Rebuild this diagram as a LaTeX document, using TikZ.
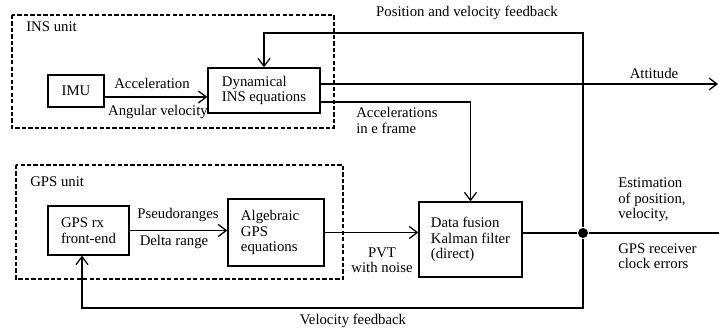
\documentclass[tikz,border=0pt]{standalone}
\usepackage{fontspec}
\setmainfont{Liberation Serif}
\usepackage{tikz}
\usetikzlibrary{arrows.meta}

\begin{document}
\begin{tikzpicture}[x=0.025cm,y=-0.025cm,line width=0.9pt,
  font=\fontsize{10.5}{11}\selectfont,
  >={Straight Barb[length=2mm,width=3mm]},
  blk/.style={draw,align=left,inner sep=0pt},
  unitbox/.style={draw,dash pattern=on 3pt off 1.6pt,line width=0.8pt}]
\useasboundingbox (0,0) rectangle (719,328);

\draw[unitbox] (12,15) rectangle (334,128);
\draw[unitbox] (16,165) rectangle (343,279);
\node[anchor=west] (ins) at (21,27) {INS unit};
\node[anchor=west] (gps) at (25,182) {GPS unit};

\node[blk,minimum width=1.4cm,minimum height=0.8cm] (imu) at (76,91) {IMU};
\node[blk,minimum width=2.8cm,minimum height=1.125cm] (dyn) at (264,90.5) {Dynamical\\INS equations};
\node[blk,minimum width=2.025cm,minimum height=1.225cm] (rx) at (88.5,230.5) {GPS rx\\front-end};
\node[blk,text width=1.75cm,inner xsep=0.325cm,minimum height=1.675cm] (alg) at (276,232.5) {Algebraic\\GPS\\equations};
\node[blk,minimum width=2.575cm,minimum height=1.875cm] (kf) at (470.5,239.5) {Data fusion\\Kalman filter\\(direct)};
\node[circle,fill,inner sep=0pt,minimum size=2.5mm] (dot) at (583,233) {};

\coordinate (att) at (718,84);
\coordinate (pvfb) at (583,33);
\coordinate (vfb) at (82,308);
\coordinate (out) at (719,233);

\draw[->] (imu.east |- 0,97) -- (dyn.west |- 0,97);
\draw[->] (dyn.east |- att) -- (att);
\draw[->] (dyn.east |- 0,102) -| (kf.north);
\draw[->] (dot) -- (pvfb) -| (dyn.north);
\draw[->] (rx.east) -- (rx.east -| alg.west);
\draw[->] (alg.east) -- (alg.east -| kf.west);
\draw (kf.east |- dot) -- (dot) -- (out);
\draw[->] (dot) |- (vfb) -- (vfb |- rx.south);

\node (lpv) at (467,13) {Position and velocity feedback};
\node (latt) at (654,73) {Attitude};
\node (lacc) at (152,83) {Acceleration};
\node (lang) at (158,112) {Angular velocity};
\node[anchor=west,align=left] (lacce) at (351,120.5) {Accelerations\\in e frame};
\node (lpr) at (178,215) {Pseudoranges};
\node (ldr) at (174,242) {Delta range};
\node[align=center] (lpvt) at (382,260) {PVT\\with noise};
\node[anchor=west,align=left] (lest) at (613,200) {Estimation\\of position,\\velocity,};
\node[anchor=west,align=left] (lclk) at (613,256) {GPS receiver\\clock errors};
\node (lvfb) at (353,321) {Velocity feedback};
\end{tikzpicture}
\end{document}
